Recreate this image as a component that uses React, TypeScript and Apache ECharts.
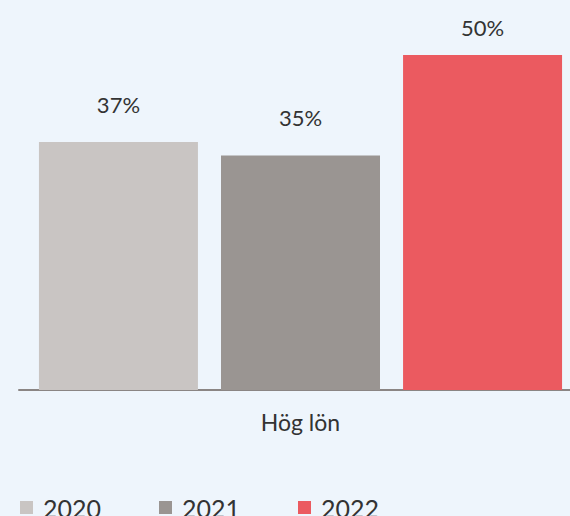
import React, { useEffect, useRef } from "react";
import * as echarts from "echarts";

const categories = ["Hög lön"];
const seriesNames = ["2020", "2021", "2022"];
const values2020 = [37];
const values2021 = [35];
const values2022 = [50];
const colors = ["#C9C5C3", "#9A9592", "#EB5A60"];
const labelDistances = [27, 27, 17];

export default function App() {
  const ref = useRef<HTMLDivElement>(null);
  useEffect(() => {
    if (!ref.current) return;
    const chart = echarts.init(ref.current, null, { renderer: "svg" });
    const data = [values2020, values2021, values2022];
    chart.setOption({
      animation: false,
      backgroundColor: "#EEF5FC",
      grid: { left: 19, right: 0, top: 55, bottom: 126, containLabel: false },
      xAxis: {
        type: "category",
        data: categories,
        axisLine: { lineStyle: { color: "#8A8584", width: 2 } },
        axisTick: { show: false },
        axisLabel: { color: "#333", fontSize: 23, fontFamily: "Lato", margin: 20 },
      },
      yAxis: { type: "value", min: 0, max: 50, show: false, splitLine: { show: false } },
      legend: {
        bottom: -9,
        left: 15,
        itemWidth: 13,
        itemHeight: 13,
        itemGap: 58,
        icon: "rect",
        textStyle: { color: "#333", fontSize: 25, fontFamily: "Lato", padding: [0, 0, 0, 5] },
        data: seriesNames,
      },
      series: seriesNames.map((name, i) => ({
        name,
        type: "bar",
        data: data[i],
        barWidth: 159,
        barGap: "14.5%",
        itemStyle: { color: colors[i] },
        label: {
          show: true,
          position: "top",
          distance: labelDistances[i],
          formatter: "{c}%",
          color: "#333",
          fontSize: 22,
          fontFamily: "Lato",
        },
      })),
    });
    return () => chart.dispose();
  }, []);
  return (
    <div style={{ position: "absolute", left: 0, top: 0, width: 570, height: 516, overflow: "hidden" }}>
      <div ref={ref} style={{ width: 582, height: 516 }} />
    </div>
  );
}
